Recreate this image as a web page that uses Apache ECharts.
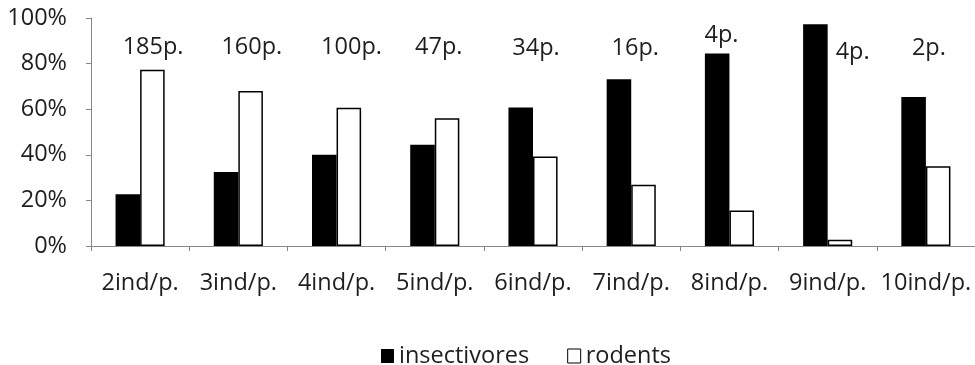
<!DOCTYPE html>
<html>
<head>
<meta charset="utf-8">
<script src="https://cdn.jsdelivr.net/npm/echarts@6/dist/echarts.min.js"></script>
<style>
  html, body { margin: 0; padding: 0; background: #fff; }
  #chart { width: 975px; height: 365px; }
</style>
</head>
<body>
<div id="chart"></div>
<script>
// Group sizes (individuals per pellet) and share of prey type, in percent
const categories = ['2ind/p.', '3ind/p.', '4ind/p.', '5ind/p.', '6ind/p.', '7ind/p.', '8ind/p.', '9ind/p.', '10ind/p.'];
const insectivores = [22.7, 32.5, 40, 44.4, 60.7, 73.1, 84.4, 97.3, 65.3];
const rodents = [77.3, 68.0, 60.6, 56.0, 39.3, 26.9, 15.6, 2.7, 35.0];
// Number of pellets in each group
const pelletCounts = ['185p.', '160p.', '100p.', '47p.', '34p.', '16p.', '4p.', '4p.', '2p.'];
const yTicks = { min: 0, max: 100, interval: 20 };

// Placement of the pellet-count notes: [horizontal shift in px, height on the value axis]
const countNoteLayout = [
  [13, 87], [13.5, 87], [15, 87], [4, 87], [3, 86.5], [4, 86.5], [-8, 92.5], [25, 84.8], [3, 86.5]
];

const FONT = '"Open Sans", sans-serif';
const FS = 23.5;
const TEXT = '#1e1e1e';
const AXIS = '#878787';

const chart = echarts.init(document.getElementById('chart'), null, { renderer: 'canvas' });

chart.setOption({
  animation: false,
  backgroundColor: '#fff',
  textStyle: { fontFamily: FONT },
  grid: { left: 91, right: 0, top: 18, bottom: 119, containLabel: false },
  legend: {
    left: 376,
    top: 339,
    icon: 'rect',
    itemWidth: 13,
    itemHeight: 14,
    itemGap: 38,
    textStyle: { fontFamily: FONT, fontSize: FS, color: TEXT },
    data: [
      { name: 'insectivores', itemStyle: { color: '#000', borderWidth: 0 } },
      { name: 'rodents', itemStyle: { color: '#fff', borderColor: '#000', borderWidth: 1 } }
    ]
  },
  xAxis: {
    type: 'category',
    data: categories,
    boundaryGap: true,
    axisLine: { lineStyle: { color: AXIS, width: 1 } },
    axisTick: { show: true, length: 5, alignWithLabel: false, lineStyle: { color: AXIS } },
    axisLabel: { fontFamily: FONT, fontSize: FS, color: TEXT, margin: 25, interval: 0 },
    splitLine: { show: false }
  },
  yAxis: {
    type: 'value',
    min: yTicks.min,
    max: yTicks.max,
    interval: yTicks.interval,
    axisLine: { show: true, lineStyle: { color: AXIS, width: 1 } },
    axisTick: { show: true, length: 5, lineStyle: { color: AXIS } },
    axisLabel: { fontFamily: FONT, fontSize: FS, color: TEXT, margin: 24, formatter: '{value}%' },
    splitLine: { show: false }
  },
  series: [
    {
      name: 'insectivores',
      type: 'bar',
      data: insectivores,
      barGap: '0%',
      barCategoryGap: '50%',
      itemStyle: { color: '#000' }
    },
    {
      name: 'rodents',
      type: 'bar',
      data: rodents,
      barGap: '0%',
      barCategoryGap: '50%',
      itemStyle: { color: '#fff', borderColor: '#000', borderWidth: 1.5 }
    },
    {
      name: 'pellets',
      type: 'scatter',
      symbolSize: 0,
      silent: true,
      itemStyle: { opacity: 1 },
      data: pelletCounts.map((txt, i) => ({
        value: [i, countNoteLayout[i][1]],
        label: { offset: [countNoteLayout[i][0], 0] }
      })),
      label: {
        show: true,
        position: 'inside',
        fontFamily: FONT,
        fontSize: FS,
        color: TEXT,
        opacity: 1,
        formatter: p => pelletCounts[p.dataIndex]
      }
    }
  ]
});
</script>
</body>
</html>
